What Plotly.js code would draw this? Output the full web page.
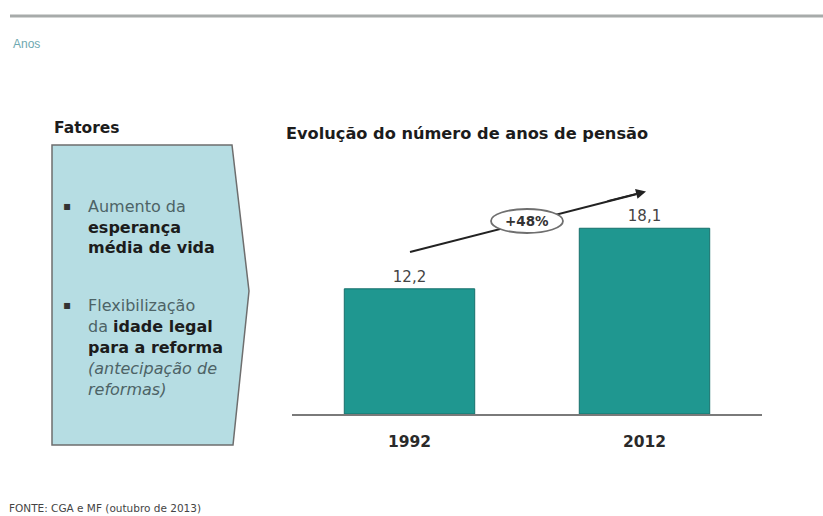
<!DOCTYPE html>
<html>
<head>
<meta charset="utf-8">
<script src="https://cdn.plot.ly/plotly-3.0.1.min.js"></script>
<style>html,body{margin:0;padding:0;background:#fff;}#chart{width:823px;height:516px;}</style>
</head>
<body>
<div id="chart"></div>
<script>
// ---- data ----
const years = ['1992', '2012'];
const pensionYears = [12.2, 18.1];
const growthLabel = '+48%';
const chartTitle = 'Evolução do número de anos de pensão';
const unitLabel = 'Anos';
const factorsTitle = 'Fatores';
const factor1Lines = ['Aumento da', '<b>esperança</b>', '<b>média de vida</b>'];
const factor2Lines = ['Flexibilização', 'da <b>idade legal</b>', '<b>para a reforma</b>', '<i>(antecipação de</i>', '<i>reformas)</i>'];
const sourceText = 'FONTE: CGA e MF (outubro de 2013)';

// ---- helpers (pixel -> paper) ----
const W = 823, H = 516;
const px = x => x / W;
const py = y => 1 - y / H;
const FONT = 'DejaVu Sans';
const darkBold = t => t.replace(/<b>/g, '<span style="color:#1c1c1c"><b>').replace(/<\/b>/g, '</b></span>');

const trace = {
  type: 'bar',
  x: years,
  y: pensionYears,
  width: 0.555,
  marker: {color: '#1f9790', line: {color: '#17706b', width: 1}},
  texttemplate: '%{y:.1f}',
  textposition: 'outside',
  textfont: {family: FONT, size: 15, color: '#444'},
  cliponaxis: false,
  hoverinfo: 'skip'
};

const annotations = [];
const shapes = [];

// top rule
shapes.push({type: 'line', xref: 'paper', yref: 'paper', x0: px(10), x1: px(823), y0: py(16), y1: py(16), line: {color: '#a7abaa', width: 3}});

// factors box (arrow pentagon)
shapes.push({
  type: 'path', xref: 'paper', yref: 'paper',
  path: `M ${px(52)} ${py(145)} L ${px(232)} ${py(145)} L ${px(249)} ${py(291)} L ${px(233)} ${py(445)} L ${px(52)} ${py(445)} Z`,
  fillcolor: '#b6dde3', line: {color: '#6e6e6e', width: 1.5}
});

// growth arrow line
shapes.push({type: 'line', xref: 'paper', yref: 'paper', x0: px(410), y0: py(252), x1: px(636), y1: py(194.3), line: {color: '#222', width: 2}});
// ellipse over line
shapes.push({type: 'circle', xref: 'paper', yref: 'paper', x0: px(491), x1: px(563), y0: py(233), y1: py(209), fillcolor: '#fff', line: {color: '#6f6f6f', width: 1.8}});

// arrow head
annotations.push({xref: 'paper', yref: 'paper', x: px(646), y: py(191.5), ax: -40, ay: 10, text: '', showarrow: true, arrowhead: 2, arrowsize: 1, arrowwidth: 2, arrowcolor: '#222', standoff: 0});
// growth label
annotations.push({xref: 'paper', yref: 'paper', x: px(527), y: py(221), text: '<b>' + growthLabel + '</b>', showarrow: false, font: {family: FONT, size: 13.5, color: '#333'}, xanchor: 'center', yanchor: 'middle'});

// unit label
annotations.push({xref: 'paper', yref: 'paper', x: px(11), y: py(44), text: unitLabel, showarrow: false, font: {family: 'Liberation Sans', size: 12, color: '#6ea8b0'}, xanchor: 'left', yanchor: 'middle'});

// factors title
annotations.push({xref: 'paper', yref: 'paper', x: px(52), y: py(128), text: '<b>' + factorsTitle + '</b>', showarrow: false, font: {family: FONT, size: 15.5, color: '#1c1c1c'}, xanchor: 'left', yanchor: 'middle'});

// bullets + lines
const lineGap = 21;
function addBlock(lines, yStart) {
  annotations.push({xref: 'paper', yref: 'paper', x: px(61), y: py(yStart), text: '▪', showarrow: false, font: {family: FONT, size: 12, color: '#333'}, xanchor: 'left', yanchor: 'middle'});
  lines.forEach((t, i) => {
    annotations.push({xref: 'paper', yref: 'paper', x: px(86), y: py(yStart + i * lineGap), text: darkBold(t), showarrow: false, font: {family: FONT, size: 16, color: '#4d6366'}, xanchor: 'left', yanchor: 'middle'});
  });
}
addBlock(factor1Lines, 206);
addBlock(factor2Lines, 305);

// source
annotations.push({xref: 'paper', yref: 'paper', x: px(7), y: py(508), text: sourceText, showarrow: false, font: {family: FONT, size: 10.5, color: '#444'}, xanchor: 'left', yanchor: 'middle'});

const layout = {
  width: W, height: H,
  margin: {l: 0, r: 0, t: 0, b: 0},
  paper_bgcolor: '#fff', plot_bgcolor: 'rgba(0,0,0,0)',
  separators: ', ',
  showlegend: false,
  title: {text: '<b>' + chartTitle + '</b>', x: px(286), xanchor: 'left', xref: 'paper', y: py(133), yanchor: 'middle', yref: 'paper', font: {family: FONT, size: 16.2, color: '#1c1c1c'}},
  xaxis: {
    type: 'category', domain: [px(292), px(762)], range: [-0.5, 1.5],
    showline: true, linecolor: '#7a7a7a', linewidth: 2,
    ticks: '', showgrid: false, zeroline: false, fixedrange: true,
    tickfont: {family: FONT, size: 15.5, color: '#2a2a2a', weight: 'bold'},
    ticklabelstandoff: 12
  },
  yaxis: {
    domain: [py(414), py(140)], range: [0, 26.7],
    visible: false, showgrid: false, zeroline: false, fixedrange: true
  },
  shapes: shapes,
  annotations: annotations
};

Plotly.newPlot('chart', [trace], layout, {staticPlot: true, displayModeBar: false});
</script>
</body>
</html>
